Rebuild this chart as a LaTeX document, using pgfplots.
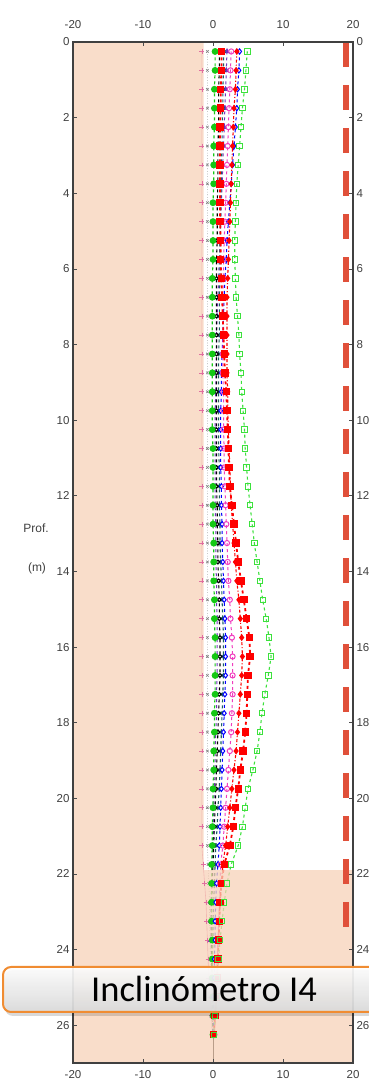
\documentclass[border=0pt]{standalone}
\usepackage{pgfplots}
\pgfplotsset{compat=1.18}
\usepackage{pgfplotstable}
\usepackage{fontspec}
\setmainfont{Liberation Sans}
\newfontfamily\calibri{Carlito}
\definecolor{shade}{RGB}{247,210,184}
\definecolor{dashred}{RGB}{224,80,58}
\definecolor{lgreen}{RGB}{60,225,60}
\definecolor{cgreen}{RGB}{20,200,20}
\definecolor{cteal}{RGB}{25,95,95}
\definecolor{cpurple}{RGB}{115,50,190}
\definecolor{cpink}{RGB}{225,110,160}
\definecolor{cmag}{RGB}{240,60,190}
\definecolor{boxorange}{RGB}{240,140,50}

\pgfplotstableread{
d    s1  s2  s3  s4  s5  s6   s7   s8  s9   s10  s11
0.25 4.9 1.2 3.4 2.6 3.8 0.3  0.9  1.5 2.0  -1.6 -0.8
0.75 4.7 1.2 3.3 2.5 3.7 0.3  0.9  1.5 1.9  -1.6 -0.8
1.25 4.5 1.1 3.2 2.4 3.5 0.2  0.8  1.4 1.8  -1.6 -0.8
1.75 4.2 1.1 3.0 2.3 3.4 0.2  0.8  1.4 1.7  -1.6 -0.8
2.25 4.0 1.0 2.9 2.2 3.2 0.2  0.8  1.3 1.6  -1.6 -0.8
2.75 3.8 1.0 2.8 2.1 3.0 0.1  0.7  1.3 1.5  -1.6 -0.8
3.25 3.6 1.0 2.7 2.0 2.8 0.1  0.7  1.2 1.4  -1.6 -0.8
3.75 3.4 1.0 2.6 1.9 2.6 0.1  0.7  1.2 1.3  -1.6 -0.8
4.25 3.3 1.0 2.5 1.8 2.4 0.0  0.6  1.1 1.2  -1.6 -0.8
4.75 3.2 1.0 2.4 1.7 2.2 0.0  0.6  1.1 1.1  -1.6 -0.8
5.25 3.1 1.1 2.3 1.6 2.0 0.0  0.6  1.0 1.0  -1.6 -0.8
5.75 3.1 1.1 2.2 1.5 1.9 0.0  0.5  1.0 0.9  -1.6 -0.8
6.25 3.2 1.2 2.1 1.5 1.7 -0.1 0.5  1.0 0.8  -1.6 -0.8
6.75 3.3 1.3 2.0 1.4 1.6 -0.1 0.5  0.9 0.7  -1.6 -0.8
7.25 3.5 1.4 2.0 1.4 1.5 -0.1 0.5  0.9 0.6  -1.6 -0.8
7.75 3.7 1.5 2.0 1.4 1.4 -0.1 0.5  0.9 0.5  -1.6 -0.8
8.25 3.8 1.6 2.0 1.4 1.3 -0.1 0.5  0.8 0.5  -1.6 -0.8
8.75 4.0 1.7 2.0 1.4 1.2 -0.1 0.5  0.8 0.4  -1.6 -0.8
9.25 4.1 1.9 2.1 1.5 1.2 -0.1 0.5  0.8 0.4  -1.6 -0.8
9.75 4.3 2.0 2.1 1.5 1.1 -0.1 0.5  0.8 0.3  -1.6 -0.8
10.25 4.5 2.1 2.2 1.5 1.1 -0.1 0.5  0.8 0.3  -1.6 -0.8
10.75 4.6 2.2 2.3 1.6 1.1 0.0  0.5  0.8 0.3  -1.6 -0.8
11.25 4.8 2.3 2.4 1.6 1.1 0.0  0.5  0.9 0.3  -1.6 -0.8
11.75 5.0 2.4 2.5 1.7 1.2 0.0  0.5  0.9 0.3  -1.6 -0.8
12.25 5.3 2.7 2.6 1.8 1.2 0.0  0.6  0.9 0.3  -1.6 -0.8
12.75 5.6 3.0 2.8 1.9 1.3 0.0  0.6  1.0 0.4  -1.6 -0.8
13.25 5.9 3.3 3.0 2.0 1.3 0.1  0.7  1.0 0.4  -1.6 -0.8
13.75 6.3 3.6 3.2 2.1 1.4 0.1  0.7  1.1 0.4  -1.6 -0.8
14.25 6.7 4.0 3.4 2.2 1.5 0.1  0.8  1.2 0.5  -1.6 -0.8
14.75 7.1 4.4 3.7 2.4 1.6 0.2  0.9  1.3 0.5  -1.6 -0.8
15.25 7.6 4.8 3.9 2.5 1.7 0.2  0.9  1.4 0.6  -1.6 -0.8
15.75 8.0 5.2 4.1 2.7 1.8 0.3  1.0  1.5 0.6  -1.6 -0.8
16.25 8.3 5.3 4.2 2.8 1.8 0.3  1.0  1.5 0.6  -1.6 -0.8
16.75 7.9 5.0 4.1 2.8 1.8 0.3  1.0  1.5 0.6  -1.6 -0.8
17.25 7.4 4.9 3.9 2.8 1.7 0.3  0.9  1.4 0.5  -1.6 -0.8
17.75 7.0 4.8 3.7 2.7 1.6 0.2  0.8  1.3 0.5  -1.6 -0.8
18.25 6.7 4.6 3.5 2.6 1.5 0.2  0.7  1.2 0.4  -1.6 -0.8
18.75 6.3 4.3 3.3 2.4 1.4 0.1  0.6  1.1 0.3  -1.6 -0.8
19.25 5.7 3.9 3.0 2.2 1.3 0.1  0.5  1.0 0.3  -1.6 -0.8
19.75 5.0 3.6 2.7 2.0 1.2 0.0  0.4  0.9 0.2  -1.6 -0.8
20.25 4.6 3.2 2.4 1.8 1.1 0.0  0.3  0.7 0.1  -1.6 -0.8
20.75 4.2 2.9 2.1 1.6 1.0 -0.1 0.2  0.6 0.1  -1.6 -0.8
21.25 3.6 2.4 1.8 1.4 0.9 -0.1 0.1  0.4 0.0  -1.6 -0.8
21.75 2.6 1.6 1.4 1.1 0.7 -0.2 0.0  0.3 -0.1 -1.4 -0.7
22.25 2.0 1.2 1.2 1.0 0.5 -0.2 -0.1 0.2 -0.2 -1.2 -0.6
22.75 1.6 1.0 1.0 0.9 0.4 -0.2 -0.2 0.1 -0.3 -1.0 -0.5
23.25 1.3 0.9 0.9 0.8 0.3 -0.2 -0.2 0.0 -0.3 -0.9 -0.5
23.75 1.0 0.8 0.8 0.7 0.3 -0.1 -0.2 0.0 -0.3 -0.8 -0.4
24.25 0.8 0.7 0.7 0.6 0.2 -0.1 -0.2 -0.1 -0.2 -0.7 -0.4
24.75 0.6 0.6 0.6 0.5 0.2 -0.1 -0.1 -0.1 -0.2 -0.6 -0.3
25.25 0.5 0.5 0.5 0.4 0.1 0.0 -0.1 -0.1 -0.1 -0.4 -0.2
25.75 0.3 0.3 0.3 0.3 0.1 0.0  0.0  0.0 -0.1 -0.2 -0.1
26.25 0.1 0.1 0.2 0.2 0.0 0.0  0.0  0.0  0.0 -0.1  0.0
}\data

\pgfplotsset{
  baseax/.style={
    at={(73pt,26pt)}, anchor=south west, scale only axis,
    width=280pt, height=1021pt,
    xmin=-20, xmax=20, ymin=0, ymax=27, y dir=reverse,
    xtick={-20,-10,0,10,20}, ytick={0,2,...,26},
    tick label style={font=\fontsize{11.5}{12}\selectfont, text=black!75},
    /pgf/number format/assume math mode=true,
    major tick length=4pt,
    tick style={black!70, line width=0.6pt},
    axis line style={black!75, line width=1.3pt},
  }
}

\begin{document}
\begin{tikzpicture}
\path[use as bounding box] (0pt,0pt) rectangle (369pt,1089pt);
\begin{axis}[baseax, axis on top, xticklabel pos=lower, yticklabel pos=left,
  xticklabel style={yshift=-4pt}, clip=true]
% traces
\addplot[cpink, line width=0.6pt, mark=+, mark size=2.4pt, mark options={solid}] table[x=s10,y=d]{\data};
\addplot[gray, line width=0.6pt, dotted, mark=x, mark size=1.8pt, mark options={solid}] table[x=s11,y=d]{\data};
\addplot[cpurple, line width=1pt, dashed, mark=triangle*, mark size=2.4pt, mark options={solid}] table[x=s9,y=d]{\data};
\addplot[cteal, line width=1.1pt, dashed, mark=asterisk, mark size=2.4pt, mark options={solid}] table[x=s8,y=d]{\data};
\addplot[black, line width=1.1pt, dashed, mark=*, mark size=1.8pt, mark options={solid,fill=white}] table[x=s7,y=d]{\data};
\addplot[cgreen, line width=1.2pt, dashed, mark=*, mark size=2.8pt, mark options={solid}] table[x=s6,y=d]{\data};
\addplot[blue, line width=1pt, dashed, mark=diamond*, mark size=2.6pt, mark options={solid, fill=white}] table[x=s5,y=d]{\data};
\addplot[cmag, line width=1pt, dashed, mark=o, mark size=2.6pt, mark options={solid}] table[x=s4,y=d]{\data};
\addplot[red, line width=1.1pt, dashdotted, mark=diamond*, mark size=2.6pt, mark options={solid}] table[x=s3,y=d]{\data};
\addplot[red, line width=1.8pt, dashed, mark=square*, mark size=2.8pt, mark options={solid}] table[x=s2,y=d]{\data};
\addplot[lgreen, line width=1.1pt, dashed, mark=square, mark size=2.7pt, mark options={solid, line width=0.9pt}] table[x=s1,y=d]{\data};
\addplot[black, line width=0.8pt] coordinates {(0,26.2) (0,27)};
% shaded zone (overlay)
\addplot[draw=none, fill=shade, fill opacity=0.75] coordinates {(-20,0) (-1.35,0) (-1.35,21.9) (20,21.9) (20,27) (-20,27)} -- cycle;
% limit line
\addplot[dashred, line width=6pt, line cap=butt, dash pattern=on 25pt off 18pt] coordinates {(19,0) (19,23.5)};
\end{axis}
\begin{axis}[baseax, xticklabel pos=upper, yticklabel pos=right,
  xticklabel style={yshift=10pt}]
\end{axis}
\node[font=\fontsize{12}{13}\selectfont, text=black!75] at (36pt,561pt) {Prof.};
\node[font=\fontsize{12}{13}\selectfont, text=black!75] at (37pt,521pt) {(m)};
% label box
\fill[black, opacity=0.15, rounded corners=8pt] (5pt,73pt) rectangle (380pt,119pt);
\shade[top color=white, bottom color=black!14, rounded corners=8pt, opacity=0.92] (3pt,77pt) rectangle (378pt,122pt);
\draw[boxorange, line width=2pt, rounded corners=8pt] (3pt,77pt) rectangle (378pt,122pt);
\node[anchor=base, font=\calibri\fontsize{36.5}{40}\selectfont, inner sep=0pt] at (204pt,87pt) {Inclinómetro I4};
\end{tikzpicture}
\end{document}
